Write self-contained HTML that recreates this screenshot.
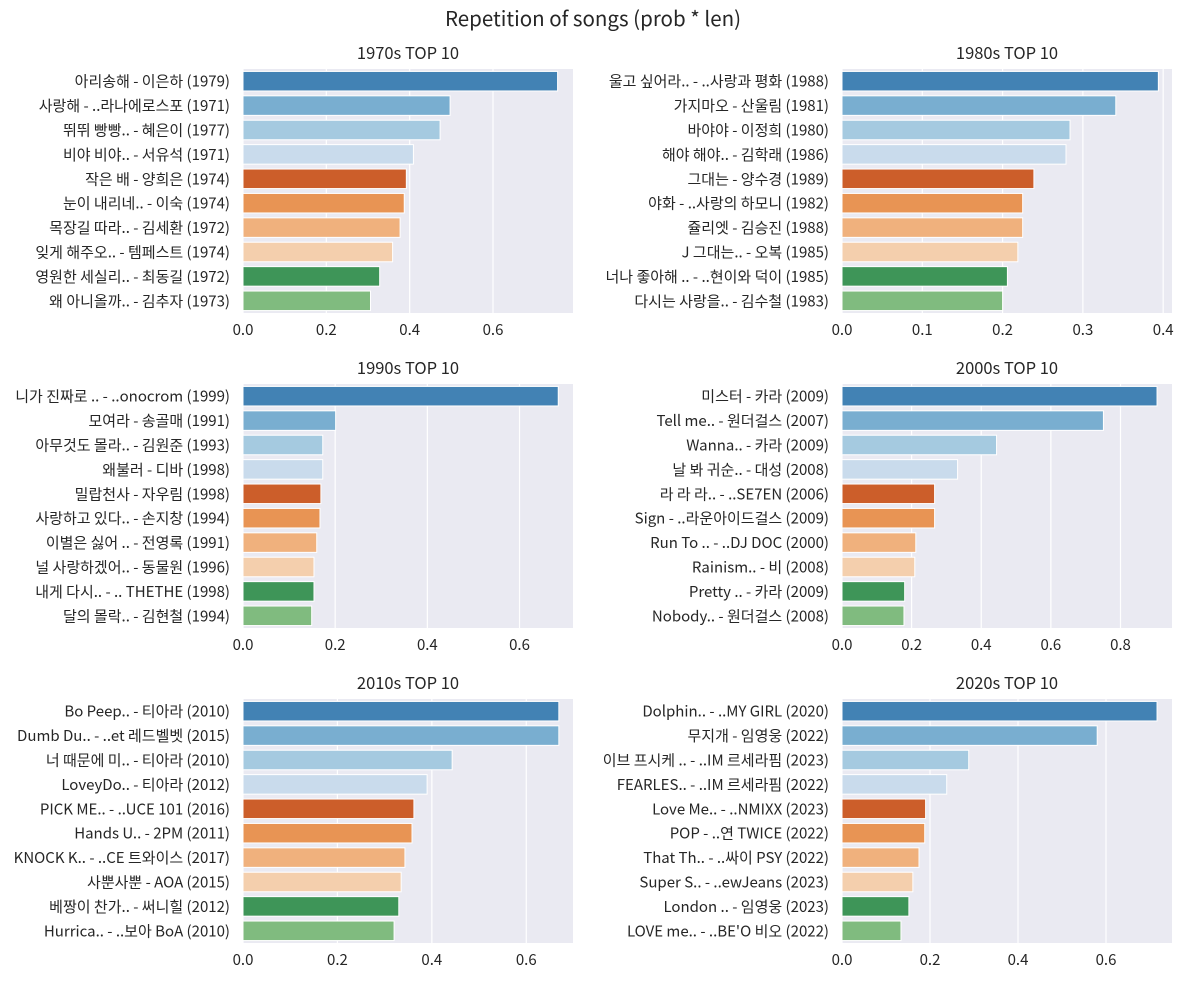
<!DOCTYPE html>
<html><head><meta charset="utf-8">
<style>
html,body{margin:0;padding:0;background:#fff;}
svg{display:block;font-family:"Noto Sans CJK KR","Liberation Sans",sans-serif;}
</style></head>
<body>
<svg id="fig" width="1182" height="982" viewBox="0 0 1182 982" xmlns="http://www.w3.org/2000/svg">
<rect width="1182" height="982" fill="#fff"/>
<text x="593" y="26" text-anchor="middle" font-size="20.5" fill="#262626">Repetition of songs (prob * len)</text>
</svg>
<script>
const titles = ["1970s TOP 10","1980s TOP 10","1990s TOP 10","2000s TOP 10","2010s TOP 10","2020s TOP 10"];
const labels70 = ["아리송해 - 이은하 (1979)","사랑해 - ..라나에로스포 (1971)","뛰뛰 빵빵.. - 혜은이 (1977)","비야 비야.. - 서유석 (1971)","작은 배 - 양희은 (1974)","눈이 내리네.. - 이숙 (1974)","목장길 따라.. - 김세환 (1972)","잊게 해주오.. - 템페스트 (1974)","영원한 세실리.. - 최동길 (1972)","왜 아니올까.. - 김추자 (1973)"];
const values70 = [0.755,0.497,0.473,0.409,0.392,0.387,0.377,0.359,0.328,0.306];
const labels80 = ["울고 싶어라.. - ..사랑과 평화 (1988)","가지마오 - 산울림 (1981)","바야야 - 이정희 (1980)","해야 해야.. - 김학래 (1986)","그대는 - 양수경 (1989)","야화 - ..사랑의 하모니 (1982)","쥴리엣 - 김승진 (1988)","J 그대는.. - 오복 (1985)","너나 좋아해 .. - ..현이와 덕이 (1985)","다시는 사랑을.. - 김수철 (1983)"];
const values80 = [0.394,0.341,0.284,0.279,0.239,0.225,0.225,0.219,0.206,0.200];
const labels90 = ["니가 진짜로 .. - ..onocrom (1999)","모여라 - 송골매 (1991)","아무것도 몰라.. - 김원준 (1993)","왜불러 - 디바 (1998)","밀랍천사 - 자우림 (1998)","사랑하고 있다.. - 손지창 (1994)","이별은 싫어 .. - 전영록 (1991)","널 사랑하겠어.. - 동물원 (1996)","내게 다시.. - .. THETHE (1998)","달의 몰락.. - 김현철 (1994)"];
const values90 = [0.684,0.201,0.173,0.173,0.169,0.167,0.160,0.154,0.154,0.149];
const labels00 = ["미스터 - 카라 (2009)","Tell me.. - 원더걸스 (2007)","Wanna.. - 카라 (2009)","날 봐 귀순.. - 대성 (2008)","라 라 라.. - ..SE7EN (2006)","Sign - ..라운아이드걸스 (2009)","Run To .. - ..DJ DOC (2000)","Rainism.. - 비 (2008)","Pretty .. - 카라 (2009)","Nobody.. - 원더걸스 (2008)"];
const values00 = [0.905,0.751,0.444,0.332,0.266,0.266,0.212,0.209,0.180,0.178];
const labels10 = ["Bo Peep.. - 티아라 (2010)","Dumb Du.. - ..et 레드벨벳 (2015)","너 때문에 미.. - 티아라 (2010)","LoveyDo.. - 티아라 (2012)","PICK ME.. - ..UCE 101 (2016)","Hands U.. - 2PM (2011)","KNOCK K.. - ..CE 트와이스 (2017)","사뿐사뿐 - AOA (2015)","베짱이 찬가.. - 써니힐 (2012)","Hurrica.. - ..보아 BoA (2010)"];
const values10 = [0.669,0.669,0.443,0.390,0.362,0.358,0.343,0.335,0.330,0.320];
const labels20 = ["Dolphin.. - ..MY GIRL (2020)","무지개 - 임영웅 (2022)","이브 프시케 .. - ..IM 르세라핌 (2023)","FEARLES.. - ..IM 르세라핌 (2022)","Love Me.. - ..NMIXX (2023)","POP - ..연 TWICE (2022)","That Th.. - ..싸이 PSY (2022)","Super S.. - ..ewJeans (2023)","London .. - 임영웅 (2023)","LOVE me.. - ..BE'O 비오 (2022)"];
const values20 = [0.716,0.580,0.288,0.238,0.190,0.188,0.175,0.161,0.152,0.134];
const ticks70 = [0,0.2,0.4,0.6];
const ticks80 = [0,0.1,0.2,0.3,0.4];
const ticks90 = [0,0.2,0.4,0.6];
const ticks00 = [0,0.2,0.4,0.6,0.8];
const ticks10 = [0,0.2,0.4,0.6];
const ticks20 = [0,0.2,0.4,0.6];
const xmax = [0.792,0.411,0.716,0.948,0.699,0.750];

const colors = ["#4282b4","#79aed0","#a5cae0","#c9dbec","#cc5e2a","#e89454","#f0b17d","#f4cfad","#3e9558","#80bb7f"];
const panels = [
 {t:titles[0],L:labels70,V:values70,T:ticks70,x:243,y:69,name:"1970s"},
 {t:titles[1],L:labels80,V:values80,T:ticks80,x:842,y:69,name:"1980s"},
 {t:titles[2],L:labels90,V:values90,T:ticks90,x:243,y:384,name:"1990s"},
 {t:titles[3],L:labels00,V:values00,T:ticks00,x:842,y:384,name:"2000s"},
 {t:titles[4],L:labels10,V:values10,T:ticks10,x:243,y:699,name:"2010s"},
 {t:titles[5],L:labels20,V:values20,T:ticks20,x:842,y:699,name:"2020s"}
];
const NS="http://www.w3.org/2000/svg";
const svg=document.getElementById('fig');
function mk(tag,attrs,parent){const e=document.createElementNS(NS,tag);for(const k in attrs)e.setAttribute(k,attrs[k]);parent.appendChild(e);return e;}
panels.forEach((p,pi)=>{
  const W=330,H=244;
  const g=mk('g',{},svg);
  
  
  const sx=v=>p.x+v/xmax[pi]*W;
  const step=H/p.V.length;
  const bg=mk('rect',{x:p.x,y:p.y,width:W,height:H,fill:'#eaeaf2'},g);
  
  
  p.T.forEach(t=>{
    const gl=mk('line',{x1:sx(t),x2:sx(t),y1:p.y,y2:p.y+H,stroke:'#fff','stroke-width':1.2},g);
    
    
    const tl=mk('text',{x:sx(t),y:p.y+H+22,'text-anchor':'middle','font-size':15,fill:'#262626'},g);
    tl.textContent=t.toFixed(1);
    
    
  });
  p.V.forEach((v,i)=>{
    const cy=p.y+step*(i+0.5);
    const b=mk('rect',{x:p.x,y:cy-step*0.4,width:sx(v)-p.x,height:step*0.8,fill:colors[i],stroke:'#fff','stroke-width':1},g);
    
    
    const l=mk('text',{x:p.x-13,y:cy+5.5,'text-anchor':'end','font-size':15,fill:'#262626'},g);
    l.textContent=p.L[i];
    
    
  });
  const tt=mk('text',{x:p.x+W/2,y:p.y-10,'text-anchor':'middle','font-size':16.5,fill:'#262626'},g);
  tt.textContent=p.t;
  
  
});
</script>
</body></html>
